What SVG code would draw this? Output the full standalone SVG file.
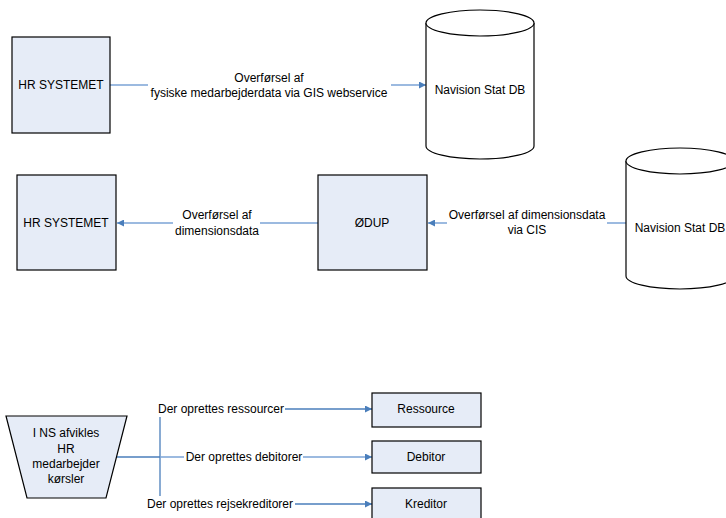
<svg xmlns="http://www.w3.org/2000/svg" width="726" height="518" viewBox="0 0 726 518">
<defs>
<marker id="ah" viewBox="0 0 10 10" refX="10" refY="5" markerWidth="8" markerHeight="7" markerUnits="userSpaceOnUse" orient="auto">
<path d="M0,0 L10,5 L0,10 Z" fill="#4A7EBB"/>
</marker>
<style>
.box{fill:#E6ECF7;stroke:#000;stroke-width:1.2}
.cyl{fill:#fff;stroke:#000;stroke-width:1.2}
text{font-family:"Liberation Sans",Arial,sans-serif;font-size:12px;fill:#000;text-anchor:middle;dominant-baseline:central}
.c{fill:none;stroke:#7BA3D6;stroke-width:1.5}
.d{fill:none;stroke:#4A7EBB;stroke-width:1.3}
</style>
</defs>
<g id="connectors">
<path class="c" d="M110,85 H148"/>
<path class="c" d="M391,85 H426" marker-end="url(#ah)"/>
<path class="c" d="M318,223 H260"/>
<path class="c" d="M173,223 H117" marker-end="url(#ah)"/>
<path class="c" d="M626,223 H607"/>
<path class="c" d="M447,223 H428" marker-end="url(#ah)"/>
<path class="d" d="M116,457 H160"/>
<path class="d" d="M160,417 V496"/>
<path class="c" d="M160,457 H184"/>
<path class="d" d="M285,409 H372" marker-end="url(#ah)"/>
<path class="c" d="M303,457 H372" marker-end="url(#ah)"/>
<path class="d" d="M295,504 H372" marker-end="url(#ah)"/>
<text x="269" y="78">Overførsel af</text>
<text x="269" y="93">fysiske medarbejderdata via GIS webservice</text>
<text x="217" y="215">Overførsel af</text>
<text x="217" y="231">dimensionsdata</text>
<text x="527" y="215">Overførsel af dimensionsdata</text>
<text x="527" y="230">via CIS</text>
<text x="221" y="409">Der oprettes ressourcer</text>
<text x="244" y="457">Der oprettes debitorer</text>
<text x="220" y="504">Der oprettes rejsekreditorer</text>
</g>
<g id="hr1">
<rect class="box" x="12" y="37" width="98" height="96"/>
<text x="61" y="85">HR SYSTEMET</text>
</g>
<g id="db1">
<path class="cyl" d="M426,23 V146 A54,13 0 0 0 534,146 V23 A54,13 0 0 0 426,23 Z"/>
<path class="cyl" d="M426,23 A54,13 0 0 0 534,23"/>
<text x="480" y="90">Navision Stat DB</text>
</g>
<g id="hr2">
<rect class="box" x="17" y="175" width="99" height="95"/>
<text x="66" y="223">HR SYSTEMET</text>
</g>
<g id="odup">
<rect class="box" x="318" y="175" width="109" height="95"/>
<text x="372" y="223">ØDUP</text>
</g>
<g id="db2">
<path class="cyl" d="M626,161 V276 A54,13 0 0 0 734,276 V161 A54,13 0 0 0 626,161 Z"/>
<path class="cyl" d="M626,161 A54,13 0 0 0 734,161"/>
<text x="680" y="228">Navision Stat DB</text>
</g>
<g id="ns">
<path class="box" d="M6,416 H127 L106,498 H27 Z"/>
<text x="66" y="433">I NS afvikles</text>
<text x="66" y="449">HR</text>
<text x="66" y="464">medarbejder</text>
<text x="66" y="479">kørsler</text>
</g>
<g id="ressource">
<rect class="box" x="372" y="393" width="109" height="34"/>
<text x="426" y="409">Ressource</text>
</g>
<g id="debitor">
<rect class="box" x="372" y="441" width="109" height="32"/>
<text x="426" y="457">Debitor</text>
</g>
<g id="kreditor">
<rect class="box" x="372" y="488" width="109" height="33"/>
<text x="426" y="504">Kreditor</text>
</g>
</svg>
